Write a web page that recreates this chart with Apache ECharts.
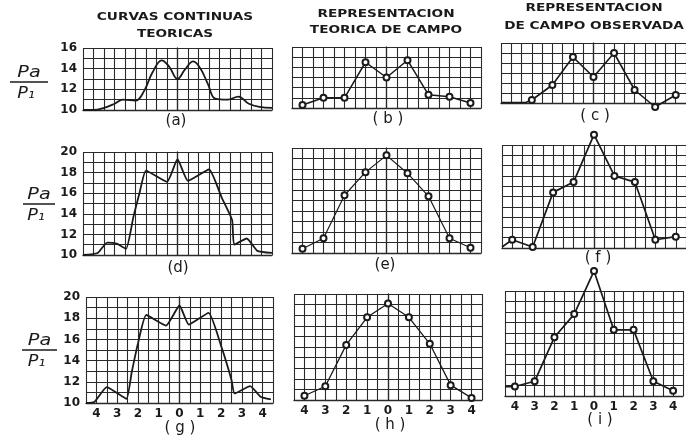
<!DOCTYPE html>
<html><head><meta charset="utf-8">
<script src="https://cdn.jsdelivr.net/npm/echarts@6/dist/echarts.min.js"></script>
<style>html,body{margin:0;padding:0;background:#fff}#c{width:686px;height:437px}</style>
</head><body><div id="c"></div>
<script>
// ---------- data ----------
const xTickValues = [-4, -3, -2, -1, 0, 1, 2, 3, 4];
const xTickLabels = ['4', '3', '2', '1', '0', '1', '2', '3', '4'];
const yLabelsRow1 = [10, 12, 14, 16];
const yLabelsRow23 = [10, 12, 14, 16, 18, 20];
const columnTitles = [['CURVAS CONTINUAS', 'TEORICAS'], ['REPRESENTACION', 'TEORICA DE CAMPO'], ['REPRESENTACION', 'DE CAMPO OBSERVADA']];
const panelLabels = ['(a)', '( b )', '( c )', '(d)', '(e)', '( f )', '( g )', '( h )', '( i )'];

// continuous theoretical curves [x, Pa/P1]
const curveA = [[-4.5,10.0],[-4.0,10.0],[-3.5,10.2],[-3.0,10.6],[-2.6,11.0],[-2.0,10.9],[-1.6,11.8],[-1.2,13.6],[-0.75,14.8],[-0.4,14.2],[0,13.0],[0.35,13.9],[0.75,14.7],[1.1,14.0],[1.45,12.5],[1.8,11.1],[2.4,11.0],[2.9,11.3],[3.4,10.6],[3.9,10.3],[4.5,10.2]];
const curveD = [[-4.5,10.0],[-3.8,10.2],[-3.35,11.2],[-2.9,11.1],[-2.45,10.6],[-2.1,13.7],[-1.8,16.1],[-1.5,18.2],[-0.5,17.1],[0,19.3],[0.5,17.2],[1.5,18.3],[2.1,15.6],[2.6,13.4],[2.7,11.0],[3.3,11.6],[3.8,10.4],[4.5,10.2]];
const curveG = [[-4.5,10.0],[-4.1,10.1],[-3.5,11.5],[-3.05,11.0],[-2.55,10.4],[-2.3,12.9],[-2.0,15.6],[-1.6,18.3],[-0.65,17.3],[0,19.2],[0.45,17.4],[1.4,18.5],[2.0,15.4],[2.5,12.2],[2.65,10.9],[3.4,11.6],[3.9,10.6],[4.4,10.35]];

// sampled theoretical field values at x = -4..4
const fieldB = [10.3, 11.0, 11.0, 14.5, 13.0, 14.7, 11.3, 11.1, 10.5];
const fieldE = [10.4, 11.4, 15.5, 17.7, 19.3, 17.6, 15.4, 11.4, 10.5];
const fieldH = [10.4, 11.3, 15.2, 17.8, 19.1, 17.8, 15.3, 11.4, 10.2];

// observed field values
const obsCx = [-4.5, -3.3, -3, -2, -1, 0, 1, 2, 3, 4];
const obsC  = [10.05, 10.05, 10.3, 11.8, 14.6, 12.6, 15.0, 11.3, 9.6, 10.8];
const obsCmark = [0, 0, 1, 1, 1, 1, 1, 1, 1, 1];
const obsFx = [-4.5, -4, -3, -2, -1, 0, 1, 2, 3, 4];
const obsF  = [10.1, 10.8, 10.1, 15.4, 16.4, 21.0, 17.0, 16.4, 10.8, 11.1];
const obsFmark = [0, 1, 1, 1, 1, 1, 1, 1, 1, 1];
const obsIx = [-4.5, -4, -3, -2, -1, 0, 1, 2, 3, 4];
const obsI  = [10.9, 10.9, 11.4, 15.6, 17.8, 21.9, 16.3, 16.3, 11.4, 10.5];
const obsImark = [0, 1, 1, 1, 1, 1, 1, 1, 1, 1];

// ---------- layout ----------
const grids = [
  {left: 83, top: 48, width: 189, height: 62},
  {left: 292, top: 47, width: 189, height: 61},
  {left: 501, top: 43, width: 189, height: 60},
  {left: 83, top: 152, width: 189, height: 103},
  {left: 292, top: 148, width: 189, height: 105},
  {left: 502, top: 145, width: 189, height: 103},
  {left: 86, top: 297, width: 187, height: 106},
  {left: 294, top: 294, width: 188, height: 106},
  {left: 505, top: 291, width: 189, height: 105}
];
const labelPos = [[176,121],[388,119],[595,116],[178,268],[385,265],[598,258],[180,428],[390,425],[600,420]];
const titlePos = [[175,17,34],[386,14,30],[594,8,26]];
const fracY = [82, 204, 350];
const fracX = [[10,48],[23,55],[22,57]];

const INK = '#1a1a1a';
const GRIDC = '#2a2a2a';
const font = '"DejaVu Sans", sans-serif';

const xAxes = [], yAxes = [], gridOpts = [], series = [];
grids.forEach((g, i) => {
  const row = Math.floor(i / 3), col = i % 3;
  gridOpts.push({left: g.left, top: g.top, width: g.width, height: g.height, show: false, containLabel: false});
  xAxes.push({
    type: 'value', gridIndex: i, min: -4.5, max: 4.5, interval: 0.5,
    axisLine: {show: true, lineStyle: {color: GRIDC, width: 1.3}},
    axisTick: {show: false},
    splitLine: {show: true, lineStyle: {color: GRIDC, width: 1.1}},
    axisLabel: {
      show: row === 2, margin: 5, color: INK, fontSize: 12, fontWeight: 'bold', fontFamily: font,
      formatter: v => { const k = xTickValues.indexOf(v); return k >= 0 ? xTickLabels[k] : ''; }
    }
  });
  const labels = row === 0 ? yLabelsRow1 : yLabelsRow23;
  yAxes.push({
    type: 'value', gridIndex: i, min: 10, max: row === 0 ? 16 : 20, interval: 1,
    axisLine: {show: true, lineStyle: {color: GRIDC, width: 1.3}},
    axisTick: {show: false},
    splitLine: {show: true, lineStyle: {color: GRIDC, width: 1.1}},
    axisLabel: {
      show: col === 0, margin: 6, color: INK, fontSize: 12, fontWeight: 'bold', fontFamily: font,
      formatter: v => labels.indexOf(v) >= 0 ? String(v) : ''
    }
  });
});

function contSeries(i, data, smooth) {
  return {type: 'line', xAxisIndex: i, yAxisIndex: i, data: data, showSymbol: false, smooth: smooth,
    lineStyle: {color: INK, width: 1.8}, silent: true, animation: false};
}
function sampSeries(i, xs, ys, marks, width) {
  return {type: 'line', xAxisIndex: i, yAxisIndex: i, clip: false, animation: false, silent: true,
    data: xs.map((x, k) => ({value: [x, ys[k]], symbol: (marks ? marks[k] : 1) ? 'emptyCircle' : 'none'})),
    symbolSize: 6, showAllSymbol: true,
    itemStyle: {color: INK, borderWidth: 1.3},
    lineStyle: {color: INK, width: width}};
}
series.push(contSeries(0, curveA, 0.4));
series.push(sampSeries(1, xTickValues, fieldB, null, 1.5));
series.push(sampSeries(2, obsCx, obsC, obsCmark, 1.6));
series.push(contSeries(3, curveD, 0.15));
series.push(sampSeries(4, xTickValues, fieldE, null, 1.2));
series.push(sampSeries(5, obsFx, obsF, obsFmark, 1.7));
series.push(contSeries(6, curveG, 0.15));
series.push(sampSeries(7, xTickValues, fieldH, null, 1.3));
series.push(sampSeries(8, obsIx, obsI, obsImark, 1.7));

const graphics = [];
columnTitles.forEach((t, c) => {
  graphics.push({type: 'text', x: titlePos[c][0], y: titlePos[c][1], scaleX: 1.3,
    style: {text: t[0], font: 'bold 10.5px ' + font, fill: INK, align: 'center', verticalAlign: 'middle'}});
  graphics.push({type: 'text', x: titlePos[c][0], y: titlePos[c][2], scaleX: 1.3,
    style: {text: t[1], font: 'bold 10.5px ' + font, fill: INK, align: 'center', verticalAlign: 'middle'}});
});
panelLabels.forEach((t, i) => {
  graphics.push({type: 'text', x: labelPos[i][0], y: labelPos[i][1],
    style: {text: t, font: '15px ' + font, fill: INK, align: 'center', verticalAlign: 'middle'}});
});
fracY.forEach((y, r) => {
  const [x0, x1] = fracX[r];
  const cx = (x0 + x1) / 2;
  graphics.push({type: 'line', shape: {x1: x0, y1: y, x2: x1, y2: y}, style: {stroke: INK, lineWidth: 1.5}});
  graphics.push({type: 'text', x: cx, y: y - 9, scaleX: 1.2,
    style: {text: 'Pa', font: 'italic 16px ' + font, fill: INK, align: 'center', verticalAlign: 'middle'}});
  graphics.push({type: 'text', x: cx - 3, y: y + 12, scaleX: 1.1,
    style: {text: 'P₁', font: 'italic 16px ' + font, fill: INK, align: 'center', verticalAlign: 'middle'}});
});

const chart = echarts.init(document.getElementById('c'), null, {renderer: 'canvas'});
chart.setOption({
  backgroundColor: '#ffffff',
  animation: false,
  grid: gridOpts, xAxis: xAxes, yAxis: yAxes, series: series, graphic: graphics
});
</script></body></html>
